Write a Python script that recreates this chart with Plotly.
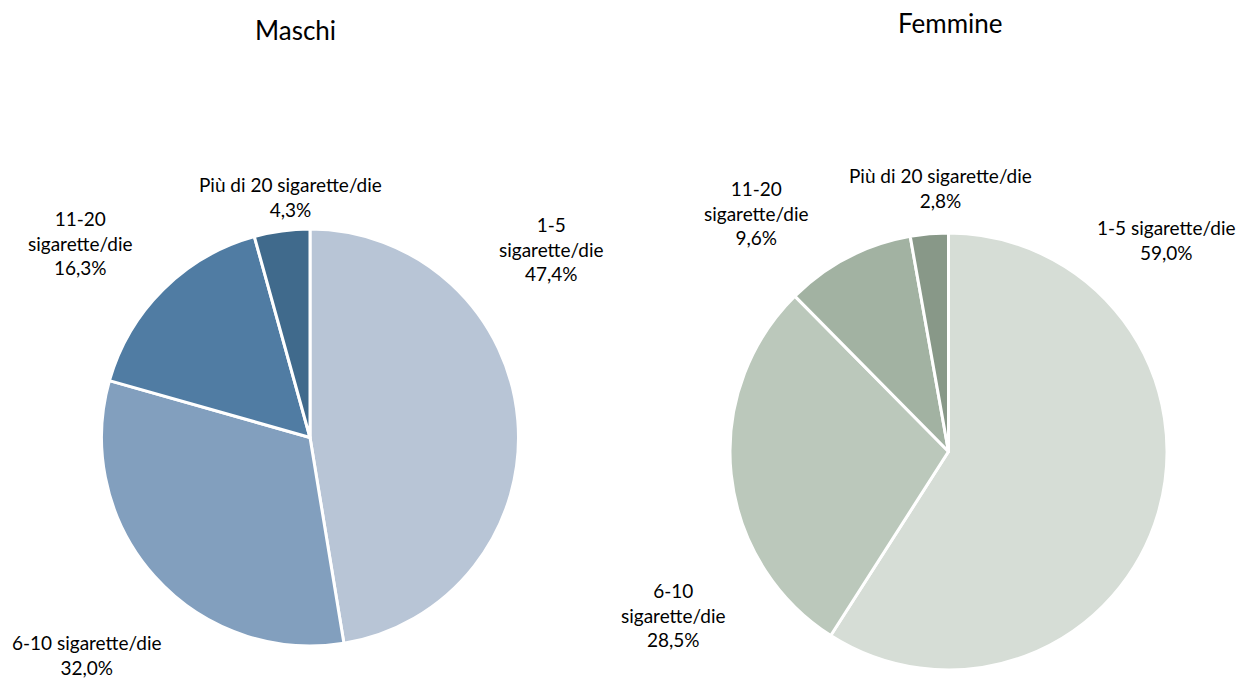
import plotly.graph_objects as go

categories = ["1-5 sigarette/die", "6-10 sigarette/die", "11-20 sigarette/die", "Più di 20 sigarette/die"]
maschi_values = [47.4, 32.0, 16.3, 4.3]
femmine_values = [59.0, 28.5, 9.6, 2.8]
maschi_labels = ["1-5<br>sigarette/die", "6-10 sigarette/die", "11-20<br>sigarette/die", "Più di 20 sigarette/die"]
femmine_labels = ["1-5 sigarette/die", "6-10<br>sigarette/die", "11-20<br>sigarette/die", "Più di 20 sigarette/die"]
maschi_colors = ["#B8C5D6", "#829FBE", "#507CA3", "#406A8C"]
femmine_colors = ["#D6DDD6", "#BBC8BB", "#A2B2A2", "#889888"]

OFF = 8  # page body margin
W, H = 1247 - OFF, 681 - OFF
FONT = "Lato"


def px_x(x):
    return (x - OFF) / W


def px_y(y):
    return 1 - (y - OFF) / H


fig = go.Figure()
fig.add_trace(go.Pie(
    labels=categories, values=maschi_values, sort=False, direction="clockwise", rotation=0,
    marker=dict(colors=maschi_colors, line=dict(color="white", width=3)),
    textinfo="none", hoverinfo="label+percent", showlegend=False,
    domain=dict(x=[px_x(101), px_x(519)], y=[px_y(646), px_y(229)]),
))
fig.add_trace(go.Pie(
    labels=categories, values=femmine_values, sort=False, direction="clockwise", rotation=0,
    marker=dict(colors=femmine_colors, line=dict(color="white", width=3)),
    textinfo="none", hoverinfo="label+percent", showlegend=False,
    domain=dict(x=[px_x(730), px_x(1167)], y=[px_y(670), px_y(233)]),
))


def fmt(v):
    return f"{v:.1f}".replace(".", ",") + "%"


# label centers in reference pixels
maschi_pos = [(551, 249), (87, 655), (80, 243), (290, 197)]
femmine_pos = [(1166, 240), (673, 615), (756, 213), (940, 188)]

annotations = []
for lbls, vals, pos in [(maschi_labels, maschi_values, maschi_pos), (femmine_labels, femmine_values, femmine_pos)]:
    for lab, v, (px, py) in zip(lbls, vals, pos):
        annotations.append(dict(
            x=px_x(px), y=px_y(py), xref="paper", yref="paper",
            text=lab + "<br>" + fmt(v), showarrow=False, align="center",
            xanchor="center", yanchor="middle",
            font=dict(family=FONT, size=19, color="#000000"),
        ))

annotations.append(dict(x=px_x(295), y=px_y(30), xref="paper", yref="paper", text="Maschi",
                        showarrow=False, xanchor="center", yanchor="middle",
                        font=dict(family=FONT, size=26, color="#000000")))
annotations.append(dict(x=px_x(951), y=px_y(23), xref="paper", yref="paper", text="Femmine",
                        showarrow=False, xanchor="center", yanchor="middle",
                        font=dict(family=FONT, size=26, color="#000000")))

fig.update_layout(
    width=W, height=H, margin=dict(l=0, r=0, t=0, b=0),
    paper_bgcolor="white", plot_bgcolor="white",
    annotations=annotations, font=dict(family=FONT),
)

fig.write_html("out.html")
